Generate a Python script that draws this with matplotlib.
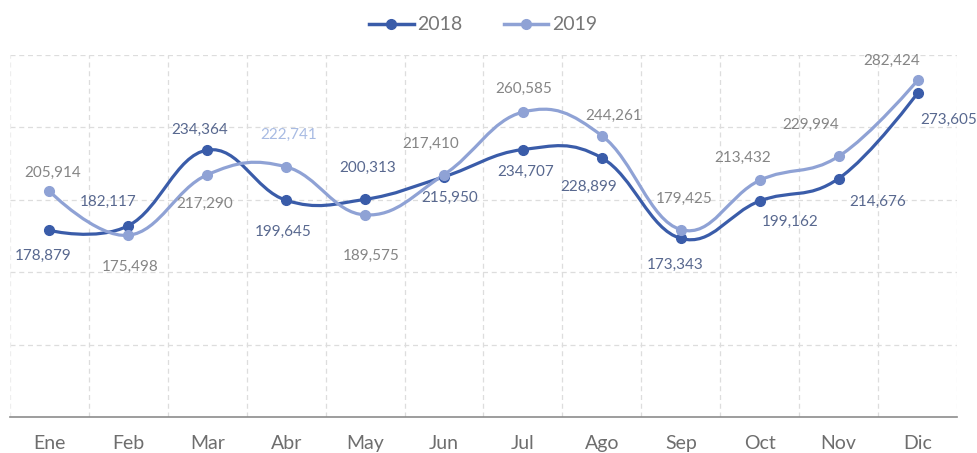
import numpy as np
import matplotlib.pyplot as plt
from matplotlib.path import Path
from matplotlib.patches import PathPatch
from matplotlib.lines import Line2D

MONTHS = ["Ene", "Feb", "Mar", "Abr", "May", "Jun", "Jul", "Ago", "Sep", "Oct", "Nov", "Dic"]
SALES_2018 = [178879, 182117, 234364, 199645, 200313, 215950, 234707, 228899, 173343, 199162, 214676, 273605]
SALES_2019 = [205914, 175498, 217290, 222741, 189575, 217410, 260585, 244261, 179425, 213432, 229994, 282424]

# label offsets in pixels (dx, dy) from each marker
OFFSETS_2018 = [(-6, -26), (-20, 24), (-8, 20), (-3, -32), (3, 31), (6, -21),
                (3, -22), (-13, -29), (-6, -26), (30, -21), (39, -23), (31, -27)]
OFFSETS_2019 = [(3, 18), (2, -32), (-3, -29), (2, 32), (6, -41), (-13, 31),
                (1, 23), (12, 20), (3, 31), (-17, 22), (-28, 31), (-26, 20)]

C2018 = "#3a5ca9"
C2019 = "#8fa2d5"
TXT2018 = "#58688f"
TXT2019 = "#858585"
GRID = "#dddddd"

plt.rcParams["font.family"] = ["Lato", "DejaVu Sans"]


def spline_path(xs, ys, smoothing=1.5):
    """Smooth curve through the points using cubic Bezier segments."""
    n = len(xs)
    verts = [(xs[0], ys[0])]
    codes = [Path.MOVETO]
    left = [None] * n
    right = [None] * n
    denom = smoothing + 1
    for i in range(1, n - 1):
        px, py = xs[i], ys[i]
        lx, ly = xs[i - 1], ys[i - 1]
        nx, ny = xs[i + 1], ys[i + 1]
        lcx = (smoothing * px + lx) / denom
        lcy = (smoothing * py + ly) / denom
        rcx = (smoothing * px + nx) / denom
        rcy = (smoothing * py + ny) / denom
        corr = (rcy - lcy) * (rcx - px) / (rcx - lcx) + py - rcy
        left[i] = (lcx, lcy + corr)
        right[i] = (rcx, rcy + corr)
    for i in range(1, n):
        c1 = right[i - 1] if right[i - 1] is not None else (xs[i - 1], ys[i - 1])
        c2 = left[i] if left[i] is not None else (xs[i], ys[i])
        verts += [c1, c2, (xs[i], ys[i])]
        codes += [Path.CURVE4] * 3
    return Path(verts, codes)


fig = plt.figure(figsize=(9.78, 4.53), dpi=100)
ax = fig.add_axes([10 / 978, 1 - 417 / 453, 947 / 978, 362 / 453])

x = np.arange(len(MONTHS))
ax.set_xlim(-0.5, len(MONTHS) - 0.5)
ax.set_ylim(50000, 300000)

for yv in [100000, 150000, 200000, 250000, 300000]:
    ax.axhline(yv, color=GRID, linestyle=(0, (4, 3)), linewidth=0.9, zorder=0)
for xv in np.arange(-0.5, len(MONTHS), 1.0):
    edge = xv in (-0.5, len(MONTHS) - 0.5)
    ax.axvline(xv, color="#eeeeee" if edge else GRID, linestyle=(0, (4, 3)),
               linewidth=0.9, zorder=0)

for vals, col in [(SALES_2018, C2018), (SALES_2019, C2019)]:
    ax.add_patch(PathPatch(spline_path(x, vals), facecolor="none", edgecolor=col,
                           linewidth=2.3, capstyle="round", zorder=2))
    ax.plot(x, vals, linestyle="none", marker="o", markersize=7, color=col, zorder=3)

for vals, offs, col in [(SALES_2018, OFFSETS_2018, TXT2018), (SALES_2019, OFFSETS_2019, TXT2019)]:
    for i, (v, (dx, dy)) in enumerate(zip(vals, offs)):
        c = col
        if vals is SALES_2019 and i == 3:
            c = "#a8bbe3"
        ax.annotate(f"{v:,}", (x[i], v), xytext=(dx, dy), textcoords="offset pixels",
                    ha="center", va="center", fontsize=11, color=c, zorder=4,
                    annotation_clip=False)

for s in ["top", "right", "left"]:
    ax.spines[s].set_visible(False)
ax.spines["bottom"].set_color("#8c8c8c")
ax.spines["bottom"].set_linewidth(1.2)
ax.set_yticks([])
ax.set_xticks(x)
ax.set_xticklabels(MONTHS, fontsize=14, color="#6e6e6e")
ax.tick_params(axis="x", length=0, pad=13)

handles = [Line2D([0], [0], color=C2018, marker="o", markersize=7, linewidth=2.5),
           Line2D([0], [0], color=C2019, marker="o", markersize=7, linewidth=2.5)]
leg = fig.legend(handles, ["2018", "2019"], loc="center", bbox_to_anchor=(0.494, 0.945),
                 ncol=2, frameon=False, fontsize=14, handlelength=2.3, handletextpad=0.2,
                 columnspacing=2.1)
for t in leg.get_texts():
    t.set_color("#777777")

fig.savefig("out.png", dpi=100)
